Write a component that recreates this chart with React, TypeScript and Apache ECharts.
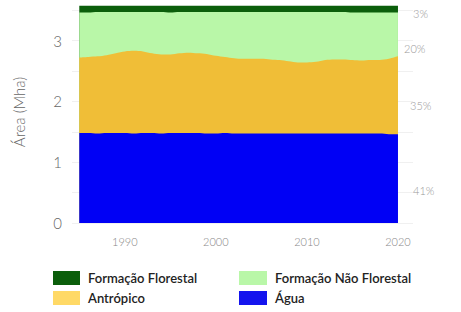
import React, { useEffect, useRef } from "react";
import * as echarts from "echarts";

const years = Array.from({ length: 36 }, (_, i) => 1985 + i);

// Upper boundary (cumulative, Mha) of each layer
const aguaTop = [1.48, 1.48, 1.47, 1.48, 1.48, 1.48, 1.47, 1.48, 1.48, 1.47, 1.48, 1.48, 1.48, 1.48, 1.47, 1.47, 1.48, 1.47, 1.47, 1.47, 1.47, 1.47, 1.47, 1.47, 1.47, 1.47, 1.47, 1.47, 1.47, 1.47, 1.47, 1.47, 1.47, 1.47, 1.46, 1.46];
const antropicoTop = [2.72, 2.73, 2.74, 2.76, 2.79, 2.82, 2.83, 2.82, 2.79, 2.77, 2.77, 2.79, 2.8, 2.79, 2.78, 2.75, 2.73, 2.71, 2.7, 2.7, 2.7, 2.69, 2.68, 2.66, 2.64, 2.64, 2.65, 2.68, 2.69, 2.69, 2.68, 2.67, 2.68, 2.68, 2.7, 2.74];
const naoFlorestalTop = [3.46, 3.46, 3.47, 3.47, 3.47, 3.47, 3.47, 3.47, 3.47, 3.47, 3.46, 3.47, 3.47, 3.47, 3.47, 3.47, 3.47, 3.47, 3.47, 3.47, 3.47, 3.47, 3.47, 3.47, 3.47, 3.47, 3.47, 3.47, 3.47, 3.47, 3.46, 3.46, 3.46, 3.46, 3.46, 3.46];
const florestalTop = [3.57, 3.57, 3.57, 3.57, 3.57, 3.57, 3.57, 3.57, 3.57, 3.57, 3.57, 3.57, 3.57, 3.57, 3.57, 3.57, 3.57, 3.57, 3.57, 3.57, 3.57, 3.57, 3.57, 3.57, 3.57, 3.57, 3.57, 3.57, 3.57, 3.57, 3.57, 3.57, 3.57, 3.57, 3.57, 3.57];

const xTicks = [1990, 2000, 2010, 2020];
const shares = [
  { label: "3%", x: 413, y: 15 },
  { label: "20%", x: 404, y: 50 },
  { label: "35%", x: 410, y: 107 },
  { label: "41%", x: 413, y: 192 },
];

const NAMES = {
  agua: "Água",
  antropico: "Antrópico",
  nao: "Formação Não Florestal",
  flor: "Formação Florestal",
};
const COLORS = {
  agua: "#0000f5",
  antropico: "#f0be37",
  nao: "#b9f7a8",
  flor: "#0b5e0b",
};

export default function App() {
  const ref = useRef<HTMLDivElement>(null);
  useEffect(() => {
    if (!ref.current) return;
    const chart = echarts.init(ref.current, undefined, { renderer: "svg" });
    const mk = (name: string, vals: number[], color: string, z: number) => ({
      name,
      type: "line",
      smooth: 0.3,
      showSymbol: false,
      symbol: "none",
      z,
      lineStyle: { width: 0 },
      areaStyle: { color, opacity: 1, origin: "start" },
      itemStyle: { color },
      data: years.map((y, i) => [y, vals[i]]),
    });
    const legendText = {
      fontFamily: "Lato",
      fontSize: 13,
      fontWeight: 600,
      color: "#222",
      padding: [0, 0, 0, 3],
    };
    chart.setOption({
      animation: false,
      backgroundColor: "#fff",
      grid: { left: 72, right: 48, top: 1, bottom: 89, containLabel: false },
      xAxis: {
        type: "value",
        min: 1984.2,
        max: 2021.65,
        axisLine: { show: false },
        axisTick: { show: false },
        splitLine: { show: false },
        axisLabel: {
          customValues: xTicks,
          formatter: (v: number) => String(v),
          color: "#888",
          fontFamily: "Lato",
          fontWeight: 300,
          fontSize: 11,
          margin: 13,
        },
      },
      yAxis: {
        type: "value",
        min: 0,
        max: 3.65,
        interval: 0.5,
        name: "Área (Mha)",
        nameLocation: "middle",
        nameGap: 46,
        nameTextStyle: { color: "#666", fontFamily: "Lato", fontWeight: 300, fontSize: 15 },
        axisLine: { show: false },
        axisTick: { show: false },
        splitLine: { show: true, showMaxLine: false, lineStyle: { color: "#f0f0f0", width: 1 } },
        axisLabel: {
          formatter: (v: number) => (Math.abs(v - Math.round(v)) < 1e-6 ? String(Math.round(v)) : ""),
          color: "#666",
          fontFamily: "Lato",
          fontWeight: 300,
          fontSize: 15,
          margin: 10,
        },
      },
      legend: [
        {
          left: 53,
          top: 271,
          padding: 0,
          orient: "vertical",
          itemWidth: 27,
          itemHeight: 14,
          itemGap: 6,
          icon: "rect",
          textStyle: legendText,
          data: [
            { name: NAMES.flor, itemStyle: { color: "#0b5e0b" } },
            { name: NAMES.antropico, itemStyle: { color: "#ffd966" } },
          ],
        },
        {
          left: 239,
          top: 271,
          padding: 0,
          orient: "vertical",
          itemWidth: 28,
          itemHeight: 14,
          itemGap: 6,
          icon: "rect",
          textStyle: legendText,
          data: [
            { name: NAMES.nao, itemStyle: { color: "#b9f7a8" } },
            { name: NAMES.agua, itemStyle: { color: "#1414ee" } },
          ],
        },
      ],
      graphic: shares.map((s) => ({
        type: "text",
        left: s.x,
        top: s.y - 7,
        style: {
          text: s.label,
          fill: "#999",
          fontFamily: "Lato",
          fontWeight: 300,
          fontSize: 11,
        },
      })),
      series: [
        mk(NAMES.flor, florestalTop, COLORS.flor, 1),
        mk(NAMES.nao, naoFlorestalTop, COLORS.nao, 2),
        mk(NAMES.antropico, antropicoTop, COLORS.antropico, 3),
        mk(NAMES.agua, aguaTop, COLORS.agua, 4),
      ],
    });
    return () => chart.dispose();
  }, []);
  return <div ref={ref} style={{ width: 461, height: 312, position: "absolute", left: 0, top: 0 }} />;
}
